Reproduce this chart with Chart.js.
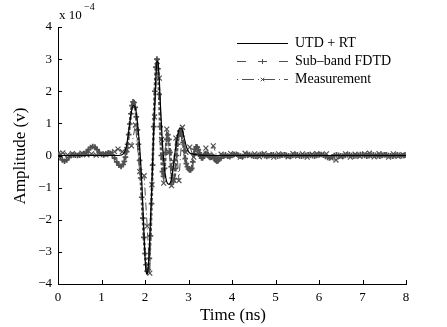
<!DOCTYPE html>
<html>
<head>
<meta charset="utf-8">
<script src="https://cdn.jsdelivr.net/npm/chart.js@4/dist/chart.umd.min.js"></script>
<style>
  html, body { margin: 0; padding: 0; background: #fff; }
  #wrap { width: 447px; height: 327px; }
</style>
</head>
<body>
<div id="wrap"><canvas id="pulseChart" width="447" height="327"></canvas></div>
<script>
// amplitudes are in units of 1e-4 V, time in ns
const xTicks = [0, 1, 2, 3, 4, 5, 6, 7, 8];
const yTicks = [-4, -3, -2, -1, 0, 1, 2, 3, 4];

// UTD + RT (solid black)
const utdTime = [0, 1.4, 1.5, 1.575, 1.625, 1.675, 1.725, 1.775, 1.825, 1.875, 1.925, 1.975, 2.0, 2.025, 2.05, 2.075, 2.1, 2.15, 2.2, 2.25, 2.275, 2.3, 2.325, 2.35, 2.4, 2.45, 2.5, 2.55, 2.6, 2.65, 2.7, 2.75, 2.8, 2.85, 2.9, 2.95, 3.0, 3.05, 3.1, 3.2, 3.5, 8];
const utdAmp = [0, 0, 0.05, 0.3, 0.75, 1.25, 1.55, 1.5, 1.05, 0.3, -0.8, -2.4, -3.15, -3.6, -3.7, -3.45, -2.9, -1.2, 0.8, 2.45, 2.95, 2.9, 2.4, 1.7, 0.4, -0.45, -0.82, -0.9, -0.78, -0.35, 0.2, 0.62, 0.86, 0.82, 0.55, 0.28, 0.12, 0.06, 0.05, 0.02, 0, 0];

// Sub-band FDTD, sampled on three time grids
const fdtdEarly = [ // 0.00 - 1.50 ns, every 0.05
  0.02, -0.05, -0.14, -0.18, -0.14, -0.06, 0.0, 0.02, 0.01, 0.0,
  0.01, 0.03, 0.05, 0.10, 0.18, 0.25, 0.28, 0.26, 0.18, 0.09,
  0.03, 0.02, 0.05, 0.08, 0.07, 0.02, -0.08, -0.2, -0.3, -0.34,
  -0.28
];
const fdtdPulse = [ // 1.525 - 3.70 ns, every 0.025
  -0.18, -0.05, 0.12, 0.35, 0.65, 0.98, 1.3, 1.55, 1.67, 1.65,
  1.5, 1.2, 0.8, 0.35, -0.15, -0.7, -1.3, -1.95, -2.55, -3.05,
  -3.4, -3.6, -3.55, -3.2, -2.5, -1.5, -0.3, 0.9, 2.0, 2.75,
  3.0, 2.7, 1.9, 0.9, 0.0, -0.5, -0.65, -0.4, 0.1, 0.5,
  0.65, 0.5, 0.1, -0.35, -0.7, -0.82, -0.72, -0.4, 0.0, 0.35,
  0.62, 0.76, 0.72, 0.6, 0.4, 0.15, -0.1, -0.25, -0.35, -0.42,
  -0.45, -0.45, -0.4, -0.2, 0.05, 0.2, 0.27, 0.26, 0.18, 0.08,
  -0.02, -0.08, -0.08, -0.03, 0.03, 0.06, 0.04, 0.0, -0.04, -0.06,
  -0.05, -0.02, -0.04, -0.1, -0.15, -0.18, -0.17, -0.12
];
const fdtdTail = [ // 3.75 - 8.00 ns, every 0.05
  -0.08, -0.02, 0.02, -0.02, -0.04, 0.0, 0.03, 0.04, 0.01, -0.02,
  -0.03, 0.0, 0.02, 0.03, 0.0, -0.02, -0.02, 0.01, 0.03, 0.02,
  -0.01, -0.03, -0.01, 0.02, 0.02, 0.0, -0.02, -0.01, 0.01, 0.02,
  0.01, -0.01, -0.02, 0.0, 0.02, 0.02, 0.0, -0.02, -0.01, 0.01,
  0.02, 0.01, -0.01, -0.02, 0.0, 0.02, 0.03, 0.01, -0.03, -0.06,
  -0.07, -0.04, 0.0, 0.02, 0.01, -0.01, -0.02, 0.0, 0.02, 0.02,
  0.0, -0.02, -0.01, 0.01, 0.03, 0.02, 0.0, -0.02, -0.01, 0.01,
  0.02, 0.01, -0.01, -0.02, 0.0, 0.02, 0.02, 0.0, -0.01, -0.02,
  0.0, 0.02, 0.01, -0.01, 0.0, 0.01
];

// Measurement (x markers)
const measTime = [0.00, 0.11, 0.22, 0.33, 0.44, 0.55, 0.66, 0.77, 0.88, 0.99, 1.10, 1.21, 1.30, 1.38, 1.48, 1.58, 1.69, 1.78, 1.88, 1.98, 2.05, 2.11, 2.16, 2.22, 2.28, 2.33, 2.38, 2.43, 2.50, 2.56, 2.61, 2.66, 2.71, 2.78, 2.86, 2.94, 3.03, 3.12, 3.22, 3.31, 3.40, 3.49, 3.57, 3.66,
  3.75, 3.86, 3.97, 4.08, 4.19, 4.30, 4.41, 4.52, 4.63, 4.74, 4.85, 4.96, 5.07, 5.18, 5.29, 5.40, 5.51, 5.62, 5.73, 5.84, 5.95, 6.06, 6.17, 6.28, 6.39, 6.50, 6.61, 6.72, 6.83, 6.94, 7.05, 7.16, 7.27, 7.38, 7.49, 7.60, 7.71, 7.82, 7.93, 8.0];
const measAmp = [0.05, 0.08, 0.02, 0.06, 0.03, 0.07, 0.02, 0.05, 0.01, 0.06, 0.03, 0.08, 0.12, 0.2, 0.12, 0.18, 0.3, 0.95, -0.5, -0.63, -2.2, -3.66, -0.91, 1.2, 2.93, 2.41, 0.5, -0.86, 0.82, 0.1, -0.94, -0.2, 0.54, -0.78, 0.88, 0.1, 0.26, -0.05, 0.08, 0.0, 0.23, 0.02, 0.3, -0.05,
  0.04, -0.03, 0.06, 0.02, -0.05, 0.07, 0.0, 0.05, -0.04, 0.06, 0.01, -0.05, 0.05, 0.02, -0.04, 0.06, -0.02, 0.05, -0.05, 0.04, 0.06, 0.03, 0.05, -0.08, -0.14, -0.04, 0.05, -0.05, 0.04, -0.03, 0.05, 0.07, -0.04, 0.06, 0.02, -0.05, 0.05, -0.03, 0.03, 0.0];

const GREY = '#505050';
const FONT = "'Liberation Serif', 'Times New Roman', serif";
// dash patterns used only for the legend samples
const legendDash = [[], [9, 12], [1, 4, 12, 4]];

function onGrid(values, start, step) {
  return values.map((v, i) => ({ x: +(start + i * step).toFixed(3), y: v }));
}
const fdtdPoints = onGrid(fdtdEarly, 0, 0.05)
  .concat(onGrid(fdtdPulse, 1.525, 0.025))
  .concat(onGrid(fdtdTail, 3.75, 0.05));
const utdPoints = utdTime.map((t, i) => ({ x: t, y: utdAmp[i] }));
const measPoints = measTime.map((t, i) => ({ x: t, y: measAmp[i] }));

const minus = (v) => (v < 0 ? '\u2212' + (-v) : String(v));

// inward tick marks, axis titles, exponent and legend box
const decorations = {
  id: 'decorations',
  afterDraw(chart) {
    const { ctx, chartArea: a, scales } = chart;
    ctx.save();
    ctx.strokeStyle = '#000';
    ctx.lineWidth = 1;
    ctx.beginPath();
    xTicks.forEach((v) => {
      const px = Math.round(scales.x.getPixelForValue(v)) + 0.5;
      ctx.moveTo(px, a.bottom);
      ctx.lineTo(px, a.bottom - 4);
    });
    yTicks.forEach((v) => {
      const py = Math.round(scales.y.getPixelForValue(v)) + 0.5;
      ctx.moveTo(a.left, py);
      ctx.lineTo(a.left + 4, py);
    });
    ctx.stroke();

    ctx.fillStyle = '#000';
    ctx.font = '17px ' + FONT;
    ctx.textAlign = 'center';
    ctx.textBaseline = 'middle';
    ctx.fillText('Time (ns)', 233, 316);
    ctx.save();
    ctx.translate(21, 156);
    ctx.rotate(-Math.PI / 2);
    ctx.fillText('Amplitude (v)', 0, 0);
    ctx.restore();

    ctx.textAlign = 'left';
    ctx.textBaseline = 'alphabetic';
    ctx.font = '13px ' + FONT;
    ctx.fillText('x 10', 59, 19);
    ctx.font = '10px ' + FONT;
    ctx.fillText('\u22124', 84, 10);

    // legend
    const rows = [43.5, 61.5, 79.5];
    const x0 = 237, x1 = 288;
    ctx.font = '14px ' + FONT;
    ctx.textBaseline = 'middle';
    chart.data.datasets.forEach((ds, i) => {
      const y = rows[i];
      ctx.save();
      ctx.strokeStyle = ds.borderColor;
      ctx.lineWidth = 1.2;
      ctx.setLineDash(legendDash[i]);
      ctx.beginPath();
      ctx.moveTo(x0, y);
      ctx.lineTo(x1, y);
      ctx.stroke();
      ctx.restore();
      if (ds.pointRadius) {
        ctx.save();
        ctx.strokeStyle = ds.pointBorderColor;
        ctx.lineWidth = 1;
        Chart.helpers.drawPoint(ctx, {
          pointStyle: ds.pointStyle,
          radius: 2.5,
          borderWidth: 1
        }, (x0 + x1) / 2, y);
        ctx.restore();
      }
      ctx.fillStyle = '#000';
      ctx.fillText(ds.label, 295, y);
    });
    ctx.restore();
  }
};

new Chart(document.getElementById('pulseChart'), {
  type: 'line',
  data: {
    datasets: [
      {
        label: 'UTD + RT',
        data: utdPoints,
        borderColor: '#000',
        borderWidth: 1.2,
        pointRadius: 0,
        cubicInterpolationMode: 'monotone'
      },
      {
        label: 'Sub\u2013band FDTD',
        data: fdtdPoints,
        borderColor: GREY,
        borderWidth: 2.6,
        borderDash: [3, 2],
        pointStyle: 'cross',
        pointRadius: 2.8,
        pointBorderWidth: 1.7,
        pointBorderColor: GREY,
        pointBackgroundColor: GREY,
        cubicInterpolationMode: 'monotone'
      },
      {
        label: 'Measurement',
        data: measPoints,
        borderColor: GREY,
        borderWidth: 1,
        borderDash: [8, 3, 1, 3],
        pointStyle: 'crossRot',
        pointRadius: 3.5,
        pointBorderWidth: 1.2,
        pointBorderColor: GREY,
        tension: 0
      }
    ]
  },
  options: {
    responsive: false,
    animation: false,
    layout: { padding: { top: 27, right: 41, left: 0, bottom: 0 } },
    plugins: {
      legend: { display: false },
      tooltip: { enabled: false }
    },
    scales: {
      x: {
        type: 'linear',
        min: 0,
        max: 8,
        afterFit: (s) => { s.height = 43; },
        afterBuildTicks: (s) => { s.ticks = xTicks.map((v) => ({ value: v })); },
        ticks: { color: '#000', padding: 6, font: { family: FONT, size: 13 }, callback: minus },
        grid: { display: false, drawTicks: false },
        border: { color: '#000', width: 1 }
      },
      y: {
        type: 'linear',
        min: -4,
        max: 4,
        afterFit: (s) => { s.width = 58; },
        afterBuildTicks: (s) => { s.ticks = yTicks.map((v) => ({ value: v })); },
        ticks: { color: '#000', padding: 6, font: { family: FONT, size: 13 }, callback: minus },
        grid: { display: false, drawTicks: false },
        border: { color: '#000', width: 1 }
      }
    }
  },
  plugins: [decorations]
});
</script>
</body>
</html>
